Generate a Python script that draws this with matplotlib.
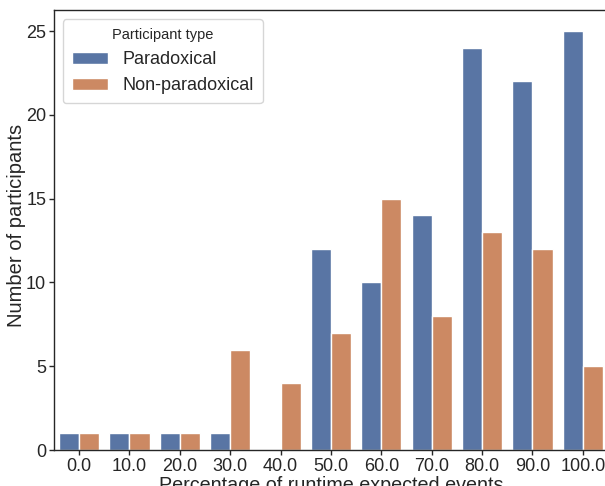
import numpy as np
import matplotlib
matplotlib.use("Agg")
import matplotlib.pyplot as plt

plt.rcParams['font.family'] = ['Liberation Sans', 'DejaVu Sans']
plt.rcParams['text.color'] = '#262626'
plt.rcParams['axes.labelcolor'] = '#262626'
plt.rcParams['xtick.color'] = '#262626'
plt.rcParams['ytick.color'] = '#262626'

categories = ['0.0', '10.0', '20.0', '30.0', '40.0', '50.0', '60.0', '70.0', '80.0', '90.0', '100.0']
paradoxical = [1, 1, 1, 1, 0, 12, 10, 14, 24, 22, 25]
non_paradoxical = [1, 1, 1, 6, 4, 7, 15, 8, 13, 12, 5]

fig = plt.figure(figsize=(6.05, 4.86), dpi=100)
ax = fig.add_axes([0.089, 0.074, 0.916, 0.905])

x = np.arange(len(categories))
w = 0.4
ax.bar(x - w / 2, paradoxical, w, color='#5975A4', edgecolor='white', linewidth=1, label='Paradoxical')
ax.bar(x + w / 2, non_paradoxical, w, color='#CC8963', edgecolor='white', linewidth=1, label='Non-paradoxical')

ax.set_xlim(-0.5, 10.5)
ax.set_ylim(0, 26.25)
ax.set_xticks(x)
ax.set_xticklabels(categories)
ax.set_yticks([0, 5, 10, 15, 20, 25])
ax.tick_params(axis='both', labelsize=13, length=3.5, width=1, pad=2)
ax.set_xlabel('Percentage of runtime expected events', fontsize=14.2, labelpad=1)
ax.set_ylabel('Number of participants', fontsize=14.5)
ax.yaxis.set_label_coords(-0.05, 0.51)

for s in ax.spines.values():
    s.set_color('#262626')
    s.set_linewidth(1)

leg = ax.legend(title='Participant type', loc='upper left', fontsize=13, title_fontsize=10.5,
                frameon=True, borderpad=0.5, handlelength=2.0)
leg.get_frame().set_edgecolor('#cccccc')

fig.savefig('out.png', dpi=100)
